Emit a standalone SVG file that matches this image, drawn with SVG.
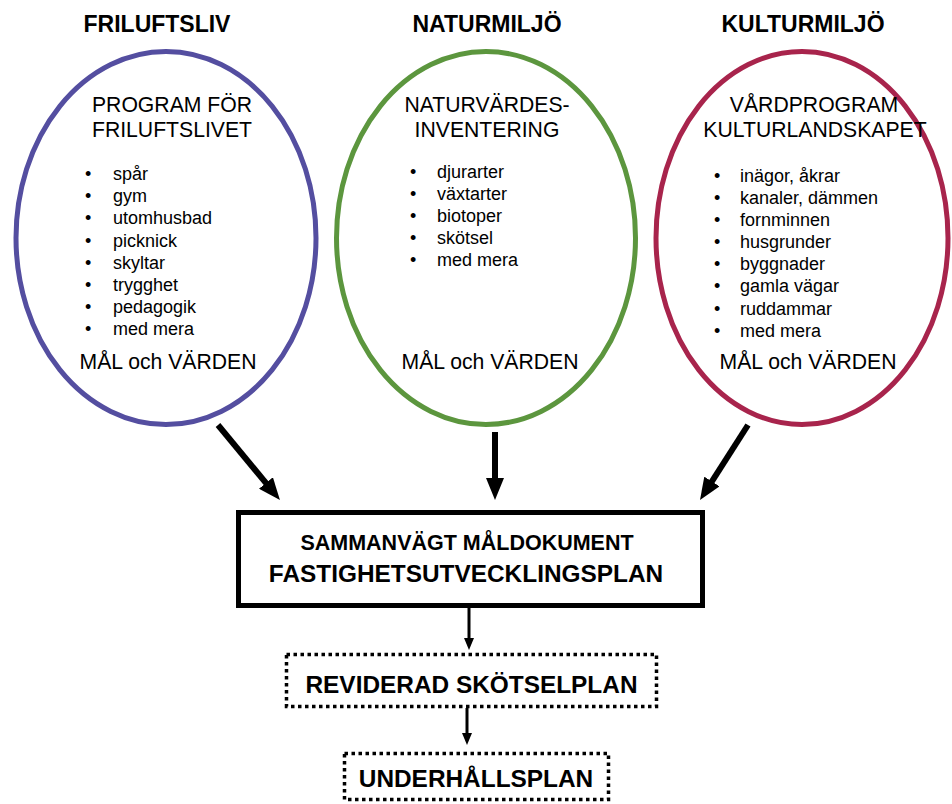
<svg xmlns="http://www.w3.org/2000/svg" width="952" height="804" viewBox="0 0 952 804">
<style>
text{font-family:"Liberation Sans",Arial,sans-serif;fill:#000}
.t{font-size:23px;font-weight:bold;text-anchor:middle}
.h{font-size:21.2px;text-anchor:middle}
.b{font-size:18px}
.bx{font-size:24.4px;font-weight:bold;text-anchor:middle}
.bx2{font-size:21.5px;font-weight:bold;text-anchor:middle}
.ell{fill:#fff;stroke-width:5}
.big{stroke:#000;stroke-width:6;fill:none}
.sm{stroke:#000;stroke-width:3;fill:none}
.dot{fill:#fff;stroke:#000;stroke-width:3.5;stroke-dasharray:3.5 3.5}
</style>
<defs>
<marker id="ah" markerUnits="userSpaceOnUse" markerWidth="22" markerHeight="18" refX="7" refY="9" orient="auto"><path d="M0,0 L22,9 L0,18 z" fill="#000"/></marker>
<marker id="as" markerUnits="userSpaceOnUse" markerWidth="12" markerHeight="10" refX="4" refY="5" orient="auto"><path d="M0,0 L12,5 L0,10 z" fill="#000"/></marker>
</defs>
<rect width="952" height="804" fill="#fff"/>

<g id="friluftsliv">
<text class="t" x="157" y="32">FRILUFTSLIV</text>
<ellipse class="ell" cx="166" cy="238" rx="150" ry="186.5" stroke="#544ea0"/>
<text class="h" x="172" y="112">PROGRAM FÖR</text>
<text class="h" x="172" y="137">FRILUFTSLIVET</text>
<g class="b">
<text x="85" y="180">•</text><text x="113" y="180">spår</text>
<text x="85" y="202">•</text><text x="113" y="202">gym</text>
<text x="85" y="224">•</text><text x="113" y="224">utomhusbad</text>
<text x="85" y="246.5">•</text><text x="113" y="246.5">picknick</text>
<text x="85" y="268.5">•</text><text x="113" y="268.5">skyltar</text>
<text x="85" y="290.5">•</text><text x="113" y="290.5">trygghet</text>
<text x="85" y="313">•</text><text x="113" y="313">pedagogik</text>
<text x="85" y="335">•</text><text x="113" y="335">med mera</text>
</g>
<text class="h" x="168" y="369">MÅL och VÄRDEN</text>
</g>

<g id="naturmiljo">
<text class="t" x="487" y="32">NATURMILJÖ</text>
<ellipse class="ell" cx="486" cy="238" rx="149.5" ry="186.5" stroke="#5c963e"/>
<text class="h" x="487" y="112">NATURVÄRDES-</text>
<text class="h" x="487" y="137">INVENTERING</text>
<g class="b">
<text x="410" y="178">•</text><text x="437" y="178">djurarter</text>
<text x="410" y="200">•</text><text x="437" y="200">växtarter</text>
<text x="410" y="222">•</text><text x="437" y="222">biotoper</text>
<text x="410" y="244">•</text><text x="437" y="244">skötsel</text>
<text x="410" y="266">•</text><text x="437" y="266">med mera</text>
</g>
<text class="h" x="490" y="369">MÅL och VÄRDEN</text>
</g>

<g id="kulturmiljo">
<text class="t" x="803" y="32">KULTURMILJÖ</text>
<ellipse class="ell" cx="802" cy="238" rx="146" ry="186.5" stroke="#a8244c"/>
<text class="h" x="814" y="112">VÅRDPROGRAM</text>
<text class="h" x="815" y="137">KULTURLANDSKAPET</text>
<g class="b">
<text x="714" y="181.5">•</text><text x="740" y="181.5">inägor, åkrar</text>
<text x="714" y="203.5">•</text><text x="740" y="203.5">kanaler, dämmen</text>
<text x="714" y="225.5">•</text><text x="740" y="225.5">fornminnen</text>
<text x="714" y="248">•</text><text x="740" y="248">husgrunder</text>
<text x="714" y="270">•</text><text x="740" y="270">byggnader</text>
<text x="714" y="292">•</text><text x="740" y="292">gamla vägar</text>
<text x="714" y="314.5">•</text><text x="740" y="314.5">ruddammar</text>
<text x="714" y="336.5">•</text><text x="740" y="336.5">med mera</text>
</g>
<text class="h" x="808" y="369">MÅL och VÄRDEN</text>
</g>

<g id="maldokument">
<rect x="238.5" y="512.5" width="464" height="93" fill="#fff" stroke="#000" stroke-width="5"/>
<text class="bx2" x="467" y="550">SAMMANVÄGT MÅLDOKUMENT</text>
<text class="bx" x="466" y="582">FASTIGHETSUTVECKLINGSPLAN</text>
</g>

<g id="skotselplan">
<rect class="dot" x="286.5" y="654.5" width="370" height="52"/>
<text class="bx" x="471.5" y="693">REVIDERAD SKÖTSELPLAN</text>
</g>

<g id="underhallsplan">
<rect class="dot" x="344.5" y="753.5" width="264" height="46"/>
<text class="bx" x="476" y="787">UNDERHÅLLSPLAN</text>
</g>

<g id="connectors">
<line class="big" x1="218" y1="425" x2="270.4" y2="488.4" marker-end="url(#ah)"/>
<line class="big" x1="495" y1="432" x2="495" y2="485" marker-end="url(#ah)"/>
<line class="big" x1="748" y1="425" x2="708.1" y2="487.4" marker-end="url(#ah)"/>
<line class="sm" x1="469" y1="608" x2="469" y2="642" marker-end="url(#as)"/>
<line class="sm" x1="467" y1="708" x2="467" y2="737" marker-end="url(#as)"/>
</g>
</svg>
